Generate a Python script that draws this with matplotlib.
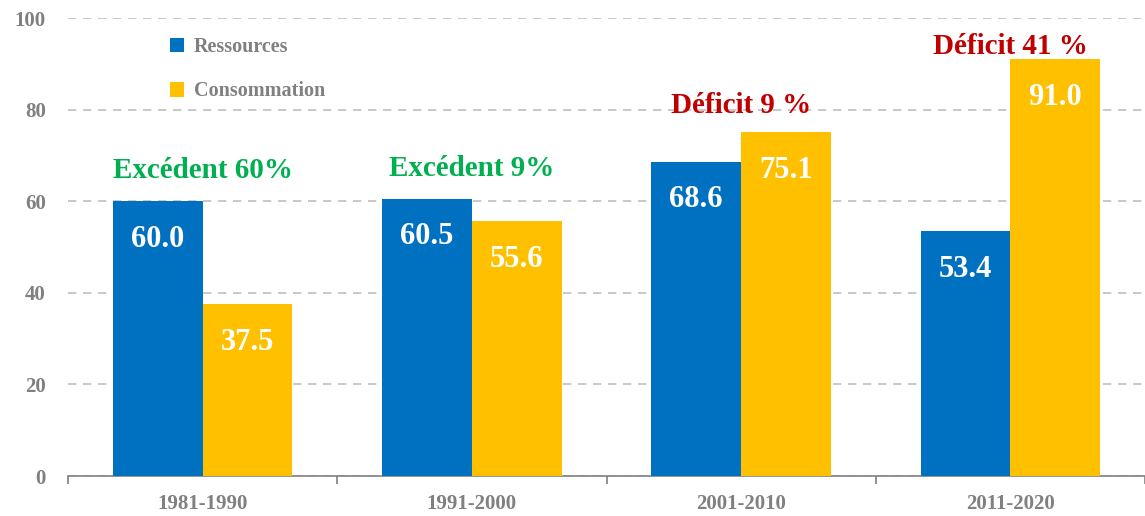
import numpy as np
import matplotlib.pyplot as plt

# --- donnees ---
periodes = ["1981-1990", "1991-2000", "2001-2010", "2011-2020"]
ressources = [60.0, 60.5, 68.6, 53.4]
consommation = [37.5, 55.6, 75.1, 91.0]
bilans = ["Excédent 60%", "Excédent 9%", "Déficit 9 %", "Déficit 41 %"]
bilan_y = [66.6, 67.1, 80.8, 93.8]

BLEU, JAUNE = "#0070C0", "#FFC000"
VERT, ROUGE, GRIS = "#00B050", "#C00000", "#808080"
plt.rcParams["font.family"] = ["Liberation Serif", "DejaVu Serif"]
plt.rcParams["font.weight"] = "bold"

fig = plt.figure(figsize=(11.45, 5.16), dpi=100)
ax = fig.add_axes([68 / 1145, 40 / 516, 1 - 68 / 1145, 458 / 516])

x = np.arange(len(periodes))
w = 1 / 3
b1 = ax.bar(x - w / 2, ressources, w, color=BLEU, label="Ressources", zorder=3)
b2 = ax.bar(x + w / 2, consommation, w, color=JAUNE, label="Consommation", zorder=3)

for bars, vals in [(b1, ressources), (b2, consommation)]:
    for r, v in zip(bars, vals):
        ax.text(r.get_x() + r.get_width() / 2, v - 8.3, f"{v:.1f}", ha="center", va="center",
                color="white", fontsize=22, fontweight="bold", zorder=4)

for xi, txt, yy in zip(x, bilans, bilan_y):
    c = VERT if txt.startswith("Exc") else ROUGE
    ax.text(xi, yy, txt, ha="center", va="center", color=c, fontsize=21, fontweight="bold", zorder=4)

ax.set_xlim(-0.5, 3.5)
ax.set_ylim(0, 100)
ax.set_yticks(range(0, 101, 20))
ax.yaxis.grid(True, linestyle=(0, (5, 4)), color="#BFBFBF", linewidth=1.2, zorder=0)
ax.tick_params(axis="y", length=0, labelsize=15, labelcolor=GRIS, pad=16)
ax.set_xticks(x)
ax.set_xticklabels(periodes)
ax.tick_params(axis="x", length=0, labelsize=15, labelcolor=GRIS, pad=13)
ax.set_xticks(np.arange(-0.5, 3.6, 1), minor=True)
ax.tick_params(axis="x", which="minor", length=6, color=GRIS, width=1.2)
for s in ["top", "right", "left"]:
    ax.spines[s].set_visible(False)
ax.spines["bottom"].set_color(GRIS)
ax.spines["bottom"].set_linewidth(1.2)
for lab in ax.get_xticklabels() + ax.get_yticklabels():
    lab.set_fontweight("bold")

leg = ax.legend(loc="upper left", bbox_to_anchor=(0.0947, 0.958), frameon=False, fontsize=14.5,
                borderpad=0, borderaxespad=0, handlelength=0.72, handleheight=0.72,
                labelspacing=1.2, handletextpad=0.45)
for t in leg.get_texts():
    t.set_color(GRIS)

fig.savefig("out.png", dpi=100)
